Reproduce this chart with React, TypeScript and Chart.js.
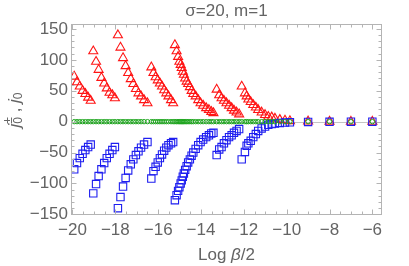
import React, { useEffect, useRef } from 'react';
import { Chart, registerables } from 'chart.js';

Chart.register(...registerables);

// Log(beta/2) sample positions (shared by all three series)
const logBeta = [
  -19.92, -19.79, -19.66, -19.53, -19.40, -19.27, -19.15,
  -19.03, -18.90, -18.78, -18.65, -18.52, -18.40, -18.27, -18.14, -18.02,
  -17.88, -17.76, -17.64, -17.52, -17.40, -17.28, -17.16, -17.04, -16.92, -16.80, -16.66, -16.50,
  -16.32, -16.22, -16.12, -16.02, -15.92, -15.82, -15.72, -15.62, -15.52, -15.40, -15.30,
  -15.22, -15.14, -15.07, -15.01, -14.95, -14.90, -14.85, -14.80, -14.74, -14.67, -14.60, -14.52,
  -14.44, -14.36, -14.25, -14.13, -14.02, -13.90, -13.76, -13.63, -13.52, -13.42,
  -13.27, -13.15, -13.04, -12.93, -12.81, -12.69, -12.57, -12.46, -12.34, -12.22,
  -12.10, -11.95, -11.87, -11.79, -11.68, -11.56, -11.44, -11.33, -11.17, -11.01, -10.86, -10.70, -10.55,
  -10.32, -10.08, -9.85, -9.00, -8.00, -7.00, -6.00,
];

// j0+ (red triangles)
const jPlus = [
  73, 64, 57, 50, 45, 39, 34,
  114, 97, 84, 71, 62, 54, 47, 43, 38,
  140, 120, 103, 90, 79, 69, 61, 53, 46, 41, 35, 30,
  88, 79, 72, 67, 62, 57, 51, 46, 41, 35, 30,
  124, 114, 105, 97, 92, 87, 81, 76, 70, 65, 61, 56,
  50, 45, 41, 35, 30, 26, 22, 19, 16, 14,
  52, 43, 38, 34, 30, 26, 22, 18, 15, 12,
  57, 46, 41, 36, 32, 27, 23, 19, 15, 11, 8, 7, 5,
  3, 2, 1, 0.5, 0.2, 0.1, 0,
];

// j0- (blue squares)
const jMinus = [
  -77, -67, -59, -52, -46, -41, -37,
  -116, -101, -88, -77, -67, -59, -52, -46, -41,
  -140, -122, -105, -91, -79, -69, -61, -54, -48, -42, -37, -33,
  -92, -80, -73, -66, -59, -53, -47, -42, -38, -35, -33,
  -127, -119, -112, -106, -100, -95, -89, -84, -78, -72, -66, -61,
  -55, -50, -44, -38, -33, -29, -25, -22, -19, -18,
  -54, -45, -41, -35, -30, -25, -22, -18, -15, -12,
  -61, -49, -39, -35, -31, -25, -20, -15, -11, -8, -5, -4, -3,
  -2, -1.5, -1, -0.5, -0.2, -0.1, 0,
];

// j0 (green circles)
const jZero = [
  0, 0, 0, 0, 0, 0, 0,
  0, 0, 0, 0, 0, 0, 0, 0, 0,
  0, 0, 0, 0, 0, 0, 0, 0, 0, 0, 0, 0,
  0, 0, 0, 0, 0, 0, 0, 0, 0, 0, 0,
  0, 0, 0, 0, 0, 0, 0, 0, 0, 0, 0, 0,
  0, 0, 0, 0, 0, 0, 0, 0, 0, 0,
  0, 0, 0, 0, 0, 0, 0, 0, 0, 0,
  0, 0, 0, 0, 0, 0, 0, 0, 0, 0, 0, 0, 0,
  0, 0, 0, 0, 0, 0, 0,
];

const xTicks = [-20, -18, -16, -14, -12, -10, -8, -6];
const yTicks = [-150, -100, -50, 0, 50, 100, 150];
const titleText = 'σ=20, m=1';

const FONT = '"Liberation Sans", Arial, sans-serif';
const TEXT = '#646464';
const FRAME = '#b4b4b4';
const FS = 17;

function fmt(v: number): string {
  return v < 0 ? '\u2212' + Math.abs(v) : String(v);
}

const decorPlugin = {
  id: 'decor',
  beforeDatasetsDraw(chart: any) {
    const { ctx, chartArea: a, scales } = chart;
    const y0 = Math.round(scales.y.getPixelForValue(0)) + 0.5;
    ctx.save();
    ctx.strokeStyle = '#c4c4c4';
    ctx.lineWidth = 1;
    ctx.beginPath();
    ctx.moveTo(a.left, y0);
    ctx.lineTo(a.right, y0);
    ctx.stroke();
    ctx.restore();
  },
  afterDatasetsDraw(chart: any) {
    const { ctx, chartArea: a, scales } = chart;
    const x = scales.x;
    const y = scales.y;
    ctx.save();
    ctx.strokeStyle = FRAME;
    ctx.lineWidth = 1;
    const L = Math.round(a.left) + 0.5;
    const R = Math.round(a.right) - 0.5;
    const T = Math.round(a.top) + 0.5;
    const B = Math.round(a.bottom) - 0.5;
    ctx.strokeRect(L, T, R - L, B - T);
    ctx.beginPath();
    for (let i = 0; i <= 28; i++) {
      const v = -20 + i * 0.5;
      const len = i % 4 === 0 ? 5 : 3;
      const px = Math.round(x.getPixelForValue(v)) + 0.5;
      if (px < L || px > R) continue;
      ctx.moveTo(px, B); ctx.lineTo(px, B - len);
      ctx.moveTo(px, T); ctx.lineTo(px, T + len);
    }
    for (let v = -150; v <= 150; v += 10) {
      const len = v % 50 === 0 ? 5 : 3;
      const py = Math.round(y.getPixelForValue(v)) + 0.5;
      if (py < T || py > B) continue;
      ctx.moveTo(L, py); ctx.lineTo(L + len, py);
      ctx.moveTo(R, py); ctx.lineTo(R - len, py);
    }
    ctx.stroke();
    ctx.restore();
  },
  afterDraw(chart: any) {
    const { ctx, chartArea: a } = chart;
    ctx.save();
    ctx.fillStyle = TEXT;
    ctx.textBaseline = 'middle';
    // title
    ctx.font = `${FS}px ${FONT}`;
    ctx.textAlign = 'center';
    ctx.fillText(titleText, (a.left + a.right) / 2, 11);

    // x label: Log β/2
    ctx.textAlign = 'left';
    const normal = `${FS}px ${FONT}`;
    const ital = `italic ${FS}px ${FONT}`;
    const parts: [string, string][] = [['Log ', normal], ['β', ital], ['/2', normal]];
    let w = 0;
    for (const [t, f] of parts) { ctx.font = f; w += ctx.measureText(t).width; }
    let cx = (a.left + a.right) / 2 - w / 2;
    for (const [t, f] of parts) { ctx.font = f; ctx.fillText(t, cx, 255); cx += ctx.measureText(t).width; }

    // y label: j0^±, j0 (rotated)
    ctx.translate(15, 110);
    ctx.rotate(-Math.PI / 2);
    const small = `${12}px ${FONT}`;
    const ybits: { t: string; f: string; dy: number; stackNext?: boolean }[] = [
      { t: 'j', f: ital, dy: 0 },
      { t: '0', f: small, dy: 4, stackNext: true },
      { t: '±', f: small, dy: -6 },
      { t: ' , ', f: normal, dy: 0 },
      { t: 'j', f: ital, dy: 0 },
      { t: '0', f: small, dy: 4 },
    ];
    let tw = 0;
    let pending = 0;
    for (const b of ybits) {
      ctx.font = b.f;
      const bw = ctx.measureText(b.t).width;
      if (b.stackNext) { pending = bw; continue; }
      tw += Math.max(bw, pending);
      pending = 0;
    }
    let px = -tw / 2;
    pending = 0;
    for (const b of ybits) {
      ctx.font = b.f;
      const bw = ctx.measureText(b.t).width;
      ctx.fillText(b.t, px, b.dy);
      if (b.stackNext) { pending = bw; continue; }
      px += Math.max(bw, pending);
      pending = 0;
    }
    ctx.restore();
  },
};

export default function App() {
  const ref = useRef<HTMLCanvasElement | null>(null);

  useEffect(() => {
    document.body.style.margin = '0';
    const canvas = ref.current;
    if (!canvas) return;
    const pts = (ys: number[]) => logBeta.map((x, i) => ({ x, y: ys[i] }));
    const chart = new Chart(canvas, {
      type: 'scatter',
      data: {
        datasets: [
          {
            label: 'j0',
            data: pts(jZero),
            pointStyle: 'circle',
            pointRadius: 2.2,
            pointBorderWidth: 1,
            pointBorderColor: 'rgb(30,165,30)',
            pointBackgroundColor: 'rgba(0,0,0,0)',
            showLine: false,
          },
          {
            label: 'j0-',
            data: pts(jMinus),
            pointStyle: 'rect',
            pointRadius: 5.2,
            pointBorderWidth: 1.1,
            pointBorderColor: 'rgb(30,30,240)',
            pointBackgroundColor: 'rgba(0,0,0,0)',
            showLine: false,
          },
          {
            label: 'j0+',
            data: pts(jPlus),
            pointStyle: 'triangle',
            pointRadius: 5.2,
            pointBorderWidth: 1.1,
            pointBorderColor: 'rgb(255,20,20)',
            pointBackgroundColor: 'rgba(0,0,0,0)',
            showLine: false,
          },
        ],
      },
      options: {
        animation: false,
        responsive: false,
        devicePixelRatio: 1,
        layout: { padding: { top: 24, right: 27, left: 0, bottom: 0 } },
        plugins: {
          legend: { display: false },
          tooltip: { enabled: false },
          title: { display: false },
        },
        scales: {
          x: {
            type: 'linear',
            min: -20.07,
            max: -5.55,
            afterBuildTicks: (s: any) => { s.ticks = xTicks.map((v) => ({ value: v })); },
            afterFit: (s: any) => { s.height = 51; },
            grid: { display: false, drawTicks: false },
            border: { display: false },
            ticks: {
              color: TEXT,
              font: { family: FONT, size: FS },
              padding: 5,
              maxRotation: 0,
              autoSkip: false,
              callback: (v: any) => fmt(Number(v)),
            },
          },
          y: {
            type: 'linear',
            min: -151,
            max: 158,
            afterBuildTicks: (s: any) => { s.ticks = yTicks.map((v) => ({ value: v })); },
            afterFit: (s: any) => { s.width = 71; },
            grid: { display: false, drawTicks: false },
            border: { display: false },
            ticks: {
              color: TEXT,
              font: { family: FONT, size: FS },
              padding: 3,
              autoSkip: false,
              callback: (v: any) => fmt(Number(v)),
            },
          },
        },
      },
      plugins: [decorPlugin],
    } as any);
    return () => chart.destroy();
  }, []);

  return (
    <div style={{ position: 'absolute', left: 0, top: 0, width: 409, height: 266, background: '#fff' }}>
      <canvas ref={ref} width={409} height={266} style={{ display: 'block' }} />
    </div>
  );
}
